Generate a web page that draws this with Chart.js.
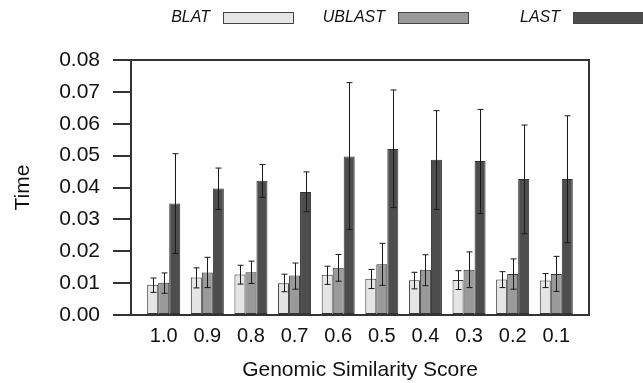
<!DOCTYPE html>
<html>
<head>
<meta charset="utf-8">
<script src="https://cdn.jsdelivr.net/npm/chart.js@4/dist/chart.umd.min.js"></script>
<style>
html,body{margin:0;padding:0;background:#fff;}
#wrap{width:643px;height:383px;}
</style>
</head>
<body>
<div id="wrap"><canvas id="c" width="643" height="383"></canvas></div>
<script>
const labels = ['1.0','0.9','0.8','0.7','0.6','0.5','0.4','0.3','0.2','0.1'];
const seriesNames = ['BLAT','UBLAST','LAST'];
const blat     = [0.0095,0.0118,0.0127,0.0100,0.0126,0.0114,0.0109,0.0110,0.0111,0.0108];
const blatLo   = [0.0071,0.0085,0.0097,0.0073,0.0096,0.0083,0.0082,0.0080,0.0086,0.0086];
const blatHi   = [0.0116,0.0148,0.0156,0.0128,0.0153,0.0143,0.0134,0.0139,0.0136,0.0130];
const ublast   = [0.0101,0.0133,0.0134,0.0124,0.0148,0.0159,0.0142,0.0142,0.0129,0.0129];
const ublastLo = [0.0068,0.0086,0.0099,0.0081,0.0106,0.0093,0.0092,0.0086,0.0081,0.0074];
const ublastHi = [0.0132,0.0181,0.0169,0.0163,0.0190,0.0225,0.0189,0.0198,0.0176,0.0184];
const last     = [0.0350,0.0397,0.0421,0.0386,0.0497,0.0521,0.0487,0.0483,0.0427,0.0427];
const lastLo   = [0.0193,0.0331,0.0369,0.0324,0.0268,0.0337,0.0331,0.0318,0.0255,0.0227];
const lastHi   = [0.0506,0.0461,0.0472,0.0449,0.0729,0.0706,0.0641,0.0645,0.0596,0.0625];
const yTicks = [0,0.01,0.02,0.03,0.04,0.05,0.06,0.07,0.08];

const FONT = "'Liberation Sans', Arial, Helvetica, sans-serif";
const fills = ['#e5e5e5','#9a9a9a','#4d4d4d'];
const lows = [blatLo, ublastLo, lastLo];
const highs = [blatHi, ublastHi, lastHi];
const values = [blat, ublast, last];

const datasets = values.map((vals, k) => ({
  label: seriesNames[k],
  data: vals.map((y, i) => ({x: i, y: y})),
  backgroundColor: fills[k],
  borderColor: '#333',
  borderWidth: 1,
  borderSkipped: false,
  categoryPercentage: 0.757,
  barPercentage: 1.0
}));

const errorBars = {
  id: 'errorBars',
  afterDatasetsDraw(chart) {
    const ctx = chart.ctx, ys = chart.scales.y;
    ctx.save();
    ctx.strokeStyle = '#1a1a1a';
    ctx.lineWidth = 1;
    chart.data.datasets.forEach((ds, k) => {
      const meta = chart.getDatasetMeta(k);
      meta.data.forEach((bar, i) => {
        const x = Math.round(bar.x) + 0.5;
        const y1 = ys.getPixelForValue(lows[k][i]);
        const y2 = ys.getPixelForValue(highs[k][i]);
        ctx.beginPath();
        ctx.moveTo(x, y1); ctx.lineTo(x, y2);
        ctx.moveTo(x - 3, y1); ctx.lineTo(x + 3, y1);
        ctx.moveTo(x - 3, y2); ctx.lineTo(x + 3, y2);
        ctx.stroke();
      });
    });
    ctx.restore();
  }
};

const frame = {
  id: 'frame',
  afterDraw(chart) {
    const {ctx, chartArea: a} = chart;
    ctx.save();
    ctx.strokeStyle = '#333';
    ctx.lineWidth = 2;
    ctx.strokeRect(a.left, a.top, a.right - a.left, a.bottom - a.top);
    ctx.restore();
  }
};

const customLegend = {
  id: 'customLegend',
  afterDraw(chart) {
    const ctx = chart.ctx;
    ctx.save();
    ctx.font = "italic 16px " + FONT;
    ctx.textAlign = 'right';
    ctx.textBaseline = 'middle';
    chart.data.datasets.forEach((ds, k) => {
      const tx = 210 + 175 * k;
      ctx.fillStyle = '#111';
      ctx.fillText(ds.label, tx, 18);
      ctx.fillStyle = ds.backgroundColor;
      ctx.fillRect(tx + 13, 12.5, 70, 11);
      ctx.strokeStyle = '#444';
      ctx.lineWidth = 1;
      ctx.strokeRect(tx + 13.5, 12.5, 70, 11);
    });
    ctx.restore();
  }
};

new Chart(document.getElementById('c'), {
  type: 'bar',
  data: { datasets },
  options: {
    responsive: false,
    animation: false,
    devicePixelRatio: 1,
    layout: { padding: { top: 60, right: 54, left: 0, bottom: 0 } },
    plugins: { legend: { display: false }, tooltip: { enabled: false } },
    scales: {
      x: {
        type: 'linear',
        min: -0.75,
        max: 9.75,
        offset: false,
        afterBuildTicks(scale) { scale.ticks = labels.map((_, i) => ({value: i})); },
        afterFit(scale) { scale.height = 68; },
        ticks: {
          callback: (v) => labels[v],
          font: { family: FONT, size: 20 },
          color: '#111',
          padding: 9,
          maxRotation: 0,
          autoSkip: false
        },
        grid: { display: false, drawTicks: false },
        border: { display: false },
        title: {
          display: true,
          text: 'Genomic Similarity Score',
          font: { family: FONT, size: 21 },
          color: '#111',
          padding: { top: 0, bottom: 0 }
        }
      },
      y: {
        min: 0,
        max: 0.08,
        afterBuildTicks(scale) { scale.ticks = yTicks.map(v => ({value: v})); },
        afterFit(scale) { scale.width = 131; },
        ticks: {
          callback: (v) => v.toFixed(2),
          font: { family: FONT, size: 21 },
          color: '#111',
          padding: 13
        },
        grid: {
          drawOnChartArea: false,
          drawTicks: true,
          tickLength: 18,
          tickColor: '#333',
          tickWidth: 2,
          lineWidth: 2,
          color: '#333'
        },
        border: { display: false },
        title: {
          display: true,
          text: 'Time',
          font: { family: FONT, size: 21 },
          color: '#111',
          padding: { top: 11, bottom: 0 }
        }
      }
    }
  },
  plugins: [errorBars, frame, customLegend]
});
</script>
</body>
</html>
